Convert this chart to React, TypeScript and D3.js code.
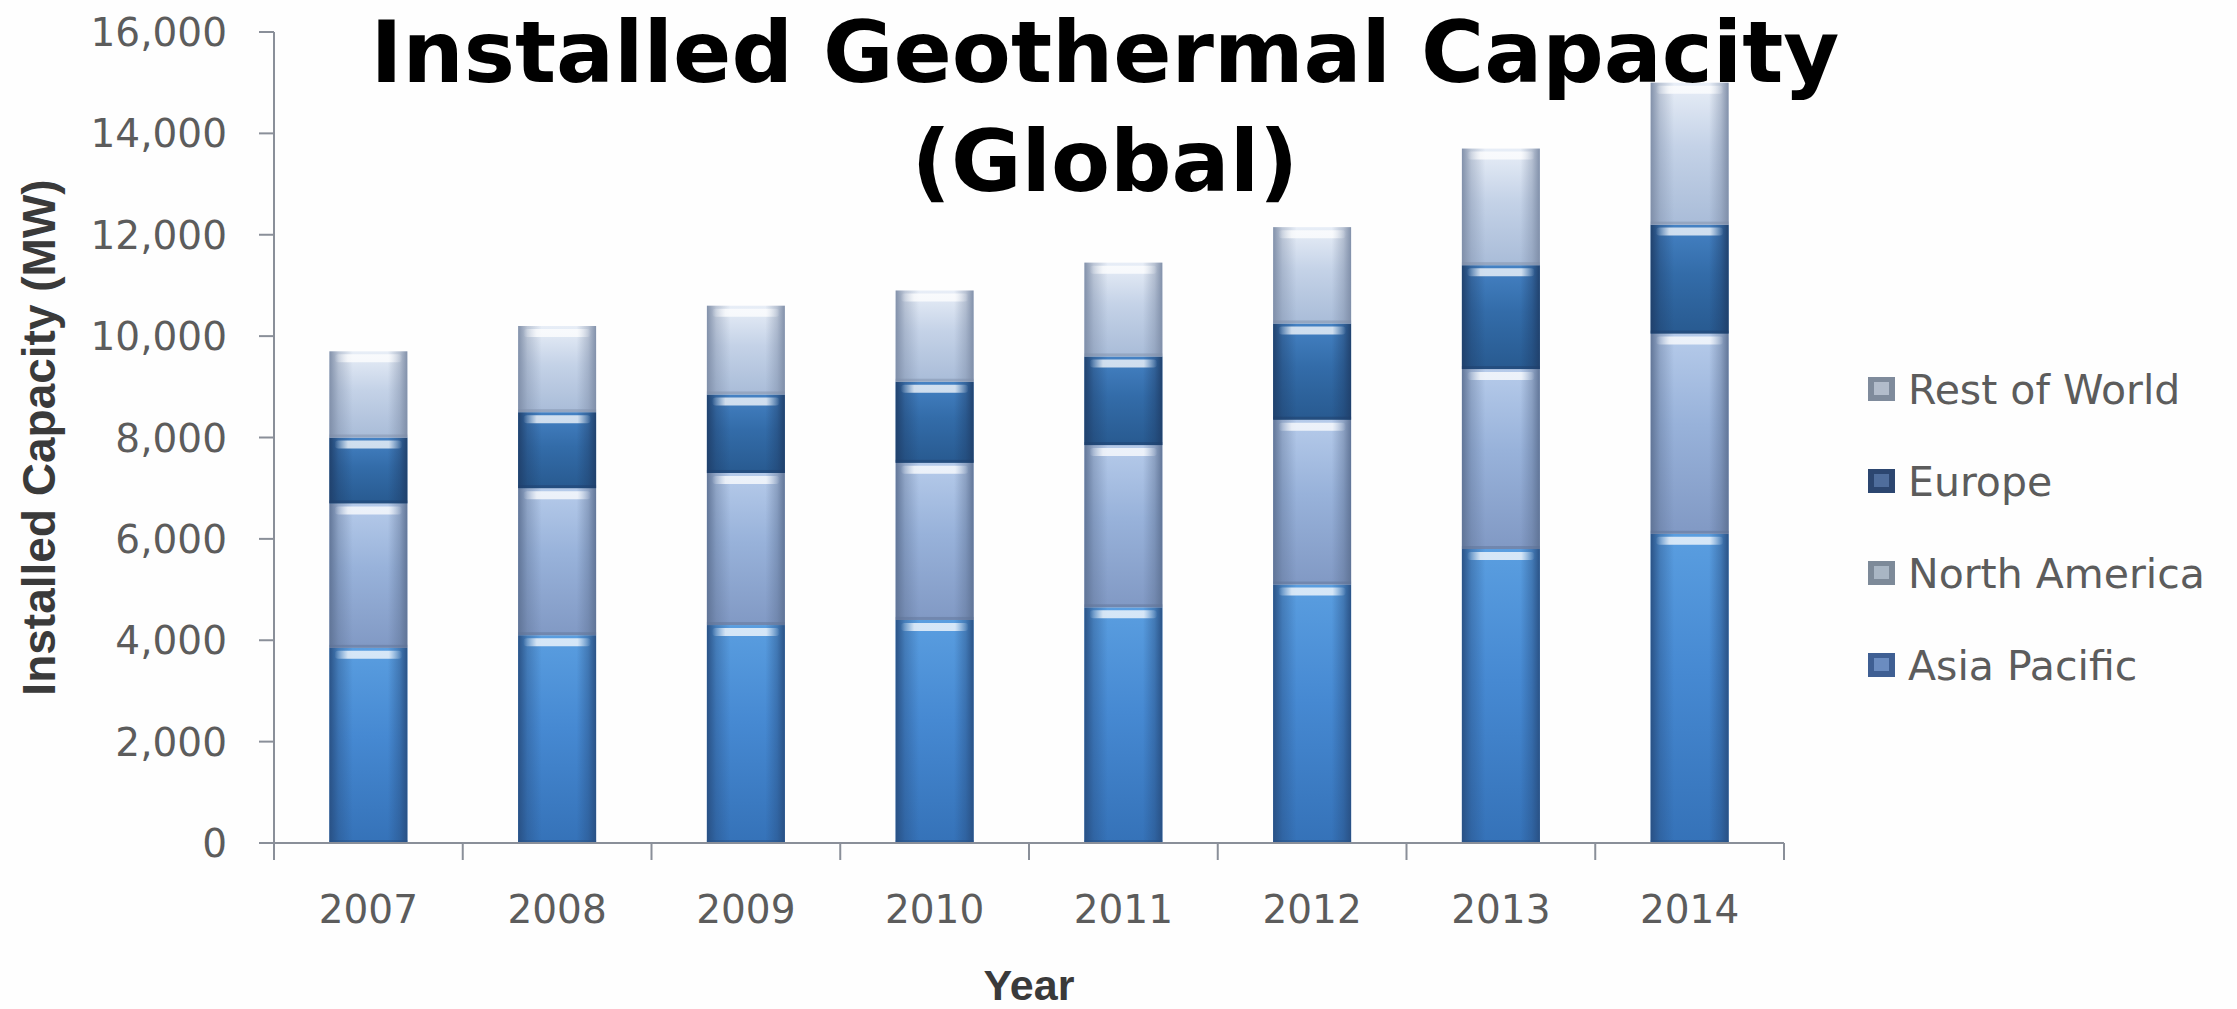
import React from 'react';
import * as d3 from 'd3';

const years = ['2007', '2008', '2009', '2010', '2011', '2012', '2013', '2014'];
const asiaPacific = [3850, 4100, 4300, 4400, 4650, 5100, 5800, 6100];
const northAmerica = [2850, 2900, 3000, 3100, 3200, 3250, 3550, 3950];
const europe = [1300, 1500, 1550, 1600, 1750, 1900, 2050, 2150];
const restOfWorld = [1700, 1700, 1750, 1800, 1850, 1900, 2300, 2800];
const seriesKeys = ['Asia Pacific', 'North America', 'Europe', 'Rest of World'];
const legendOrder = ['Rest of World', 'Europe', 'North America', 'Asia Pacific'];
const yTicks = [0, 2000, 4000, 6000, 8000, 10000, 12000, 14000, 16000];

const W = 2237;
const H = 1009;
const left = 274;
const right = 1784;
const top = 32;
const bottom = 843;

const segStyle: Record<string, { t: string; m: string; b: string; edge: string; lg: string; lgIn: string }> = {
  'Asia Pacific': { t: '#5a9ee0', m: '#4689d2', b: '#3572b8', edge: '#284f82', lg: '#3f5f93', lgIn: '#6b8cc0' },
  'North America': { t: '#b6cbea', m: '#98b2da', b: '#8199c4', edge: '#5e7294', lg: '#7d8a99', lgIn: '#a9b6c4' },
  'Europe': { t: '#4582c4', m: '#336ca9', b: '#285a90', edge: '#1f3f6a', lg: '#2c4670', lgIn: '#4f6d9c' },
  'Rest of World': { t: '#e8eef7', m: '#c4d2e7', b: '#a9bcd8', edge: '#7d8ca6', lg: '#7f8b9c', lgIn: '#b2bccb' },
};

export default function App() {
  const rows = years.map((y, i) => ({
    year: y,
    'Asia Pacific': asiaPacific[i],
    'North America': northAmerica[i],
    'Europe': europe[i],
    'Rest of World': restOfWorld[i],
  }));
  const stacked = d3.stack<any>().keys(seriesKeys)(rows);

  const x = d3.scaleBand<string>().domain(years).range([left, right]).paddingInner(0.587).paddingOuter(0.2935);
  const y = d3.scaleLinear().domain([0, 16000]).range([bottom, top]);
  const step = x.step();
  const bw = x.bandwidth();

  const tickFont = '"DejaVu Sans", Verdana, sans-serif';
  const boldFont = '"Liberation Sans", Arial, sans-serif';

  return (
    <svg width={W} height={H} style={{ position: 'absolute', left: 0, top: 0, background: '#fefefe' }}>
      <defs>
        {seriesKeys.map((k, i) => (
          <linearGradient key={k} id={`gv${i}`} x1="0" y1="0" x2="0" y2="1">
            <stop offset="0%" stopColor={segStyle[k].t} />
            <stop offset="45%" stopColor={segStyle[k].m} />
            <stop offset="100%" stopColor={segStyle[k].b} />
          </linearGradient>
        ))}
        {seriesKeys.map((k, i) => (
          <linearGradient key={k} id={`gh${i}`} x1="0" y1="0" x2="1" y2="0">
            <stop offset="0%" stopColor={segStyle[k].edge} stopOpacity="0.95" />
            <stop offset="12%" stopColor={segStyle[k].edge} stopOpacity="0.4" />
            <stop offset="30%" stopColor={segStyle[k].edge} stopOpacity="0" />
            <stop offset="75%" stopColor={segStyle[k].edge} stopOpacity="0" />
            <stop offset="90%" stopColor={segStyle[k].edge} stopOpacity="0.45" />
            <stop offset="100%" stopColor={segStyle[k].edge} stopOpacity="0.95" />
          </linearGradient>
        ))}
        <linearGradient id="hl" x1="0" y1="0" x2="1" y2="0">
          <stop offset="0%" stopColor="#ffffff" stopOpacity="0" />
          <stop offset="20%" stopColor="#ffffff" stopOpacity="0.75" />
          <stop offset="80%" stopColor="#ffffff" stopOpacity="0.75" />
          <stop offset="100%" stopColor="#ffffff" stopOpacity="0" />
        </linearGradient>
      </defs>

      {stacked.map((s, si) => (
        <g key={s.key}>
          {s.map((d, di) => {
            const x0 = x(years[di]) as number;
            const yTop = y(d[1]);
            const yBot = y(d[0]);
            const h = yBot - yTop;
            return (
              <g key={di}>
                <rect x={x0} y={yTop} width={bw} height={h} fill={`url(#gv${si})`} />
                <rect x={x0} y={yTop} width={bw} height={h} fill={`url(#gh${si})`} />
                <rect x={x0 + 5} y={yTop + 3} width={bw - 10} height={8} rx={4} fill="url(#hl)" />
                <rect x={x0} y={yBot - 3} width={bw} height={3} fill={segStyle[s.key].edge} opacity={0.45} />
              </g>
            );
          })}
        </g>
      ))}

      <line x1={left} x2={left} y1={top} y2={bottom + 17} stroke="#8a8f99" strokeWidth={2} />
      <line x1={left} x2={right} y1={bottom} y2={bottom} stroke="#8a8f99" strokeWidth={2} />
      {yTicks.map((t) => (
        <g key={t}>
          <line x1={left - 15} x2={left} y1={y(t)} y2={y(t)} stroke="#8a8f99" strokeWidth={2} />
          <text x={227} y={y(t)} dy="0.36em" textAnchor="end" fontFamily={tickFont} fontSize={39} fill="#5c5c5c">
            {d3.format(',')(t)}
          </text>
        </g>
      ))}
      {years.map((yr, i) => (
        <g key={yr}>
          <line
            x1={left + step * (i + 1)}
            x2={left + step * (i + 1)}
            y1={bottom}
            y2={bottom + 17}
            stroke="#8a8f99"
            strokeWidth={2}
          />
          <text
            x={(x(yr) as number) + bw / 2}
            y={923}
            textAnchor="middle"
            fontFamily={tickFont}
            fontSize={39}
            fill="#5c5c5c"
          >
            {yr}
          </text>
        </g>
      ))}

      <text x={(left + right) / 2} y={1000} textAnchor="middle" fontFamily={boldFont} fontWeight="bold" fontSize={43} fill="#3a3a3a">
        Year
      </text>
      <text
        transform={`translate(55, ${(top + bottom) / 2}) rotate(-90)`}
        textAnchor="middle"
        fontFamily={boldFont}
        fontWeight="bold"
        fontSize={46}
        fill="#3a3a3a"
      >
        Installed Capacity (MW)
      </text>

      {legendOrder.map((k, i) => {
        const cy = 389 + i * 92;
        return (
          <g key={k}>
            <rect x={1868} y={cy - 12} width={27} height={24} fill={segStyle[k].lg} />
            <rect x={1874} y={cy - 7} width={15} height={13} fill={segStyle[k].lgIn} />
            <text x={1908} y={cy} dy="0.36em" fontFamily={tickFont} fontSize={41} fill="#5c5c5c">
              {k}
            </text>
          </g>
        );
      })}

      <text x={1105} y={82} textAnchor="middle" fontFamily='"DejaVu Sans", sans-serif' fontWeight="bold" fontSize={86} fill="#000">
        Installed Geothermal Capacity
      </text>
      <text x={1105} y={191} textAnchor="middle" fontFamily='"DejaVu Sans", sans-serif' fontWeight="bold" fontSize={86} fill="#000">
        (Global)
      </text>
    </svg>
  );
}
